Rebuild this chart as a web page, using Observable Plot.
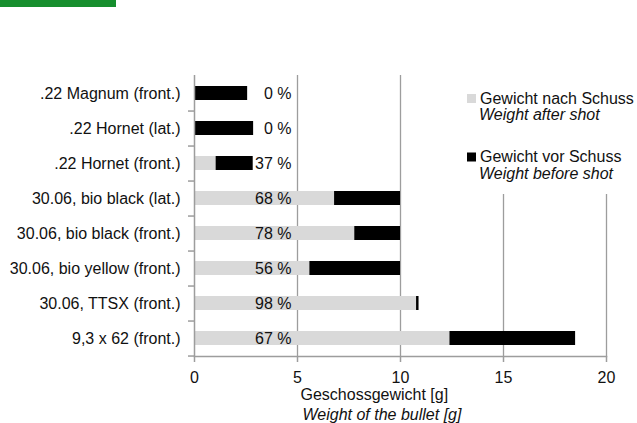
<!DOCTYPE html>
<html><head><meta charset="utf-8">
<script src="https://cdn.jsdelivr.net/npm/d3@7"></script>
<script src="https://cdn.jsdelivr.net/npm/@observablehq/plot@0.6"></script>
<style>
body{margin:0;background:#fff}
#wrap{position:relative;width:637px;height:423px;overflow:hidden}
#band{position:absolute;left:0;top:0;width:116px;height:7px;background:#168e2e}
#wrap svg{position:absolute;left:0;top:0}
</style>
</head><body><div id="wrap"><div id="band"></div></div>
<script>
const categories = [".22 Magnum (front.)", ".22 Hornet (lat.)", ".22 Hornet (front.)", "30.06, bio black (lat.)", "30.06, bio black (front.)", "30.06, bio yellow (front.)", "30.06, TTSX (front.)", "9,3 x 62 (front.)"];
const weightAfter = [0, 0, 1.05, 6.8, 7.78, 5.6, 10.78, 12.4];
const weightBefore = [2.58, 2.87, 2.85, 10.0, 10.0, 10.0, 10.9, 18.5];
const retained = [0, 0, 37, 68, 78, 56, 98, 67];
const xTicks = [0, 5, 10, 15, 20];
const gridTicks = [5, 10, 15, 20];
const legendDe = ["Gewicht nach Schuss", "Gewicht vor Schuss"];
const legendEn = ["Weight after shot", "Weight before shot"];
const axisTitle = ["Geschossgewicht [g]", "Weight of the bullet [g]"];
const colors = ["#d9d9d9", "#000000"];

const rows = categories.map((c, i) => ({cat: c, after: weightAfter[i], before: weightBefore[i], pct: retained[i]}));
const gray = "#9d9d9d";
const ink = "#111";

const plot = Plot.plot({
  width: 637, height: 423,
  marginLeft: 194, marginRight: 31, marginTop: 75, marginBottom: 67,
  style: {fontFamily: "'Liberation Sans', Arial, sans-serif", fontSize: "16px", color: ink, background: "transparent"},
  x: {domain: [0, 20], ticks: xTicks, label: null},
  y: {domain: categories, paddingInner: 0.6, paddingOuter: 0.3, label: null},
  marks: [
    Plot.ruleX(gridTicks, {stroke: gray, strokeWidth: 1.3}),
    Plot.barX(rows, {y: "cat", x: "after", fill: colors[0]}),
    Plot.barX(rows, {y: "cat", x1: "after", x2: "before", fill: colors[1]}),
    Plot.ruleX([0], {stroke: gray, strokeWidth: 1.5}),
    Plot.frame({anchor: "bottom", stroke: gray, strokeWidth: 1.5}),
    Plot.axisX({ticks: xTicks, tickSize: 6, tickPadding: 9, stroke: gray, strokeWidth: 1.5, fill: ink, label: null}),
    Plot.axisY({tickSize: 0, tickPadding: 14, fill: ink, label: null}),
    Plot.axisY({tickSize: 6, tickFormat: () => "", dy: 17.55, stroke: gray, strokeWidth: 1.5, label: null}),
    Plot.text(rows, {y: "cat", text: d => `${d.pct} %`, frameAnchor: "left", textAnchor: "end", dx: 97, fill: ink}),
    Plot.text([axisTitle[0]], {text: d => d, frameAnchor: "bottom-left", dx: 106, dy: 43, lineAnchor: "bottom", textAnchor: "start", fill: ink}),
    Plot.text([axisTitle[1]], {text: d => d, frameAnchor: "bottom-left", dx: 108, dy: 63, lineAnchor: "bottom", textAnchor: "start", fontStyle: "italic", fill: ink})
  ]
});

const svg = d3.select(plot);
const lg = svg.append("g").attr("font-size", 16).attr("text-anchor", "start");
lg.append("rect").attr("x", 458).attr("y", 72).attr("width", 179).attr("height", 122).attr("fill", "white");
legendDe.forEach((t, i) => {
  const y0 = 94 + i * 58.5;
  lg.append("rect").attr("x", 467).attr("y", y0).attr("width", 9).attr("height", 9).attr("fill", colors[i]);
  lg.append("text").attr("x", 480).attr("y", y0 + 9.5).attr("fill", ink).attr("text-anchor", "start").text(t);
  lg.append("text").attr("x", 479).attr("y", y0 + 26).attr("fill", ink).attr("text-anchor", "start").attr("font-style", "italic").text(legendEn[i]);
});

document.getElementById("wrap").appendChild(plot);
</script>
</body></html>
